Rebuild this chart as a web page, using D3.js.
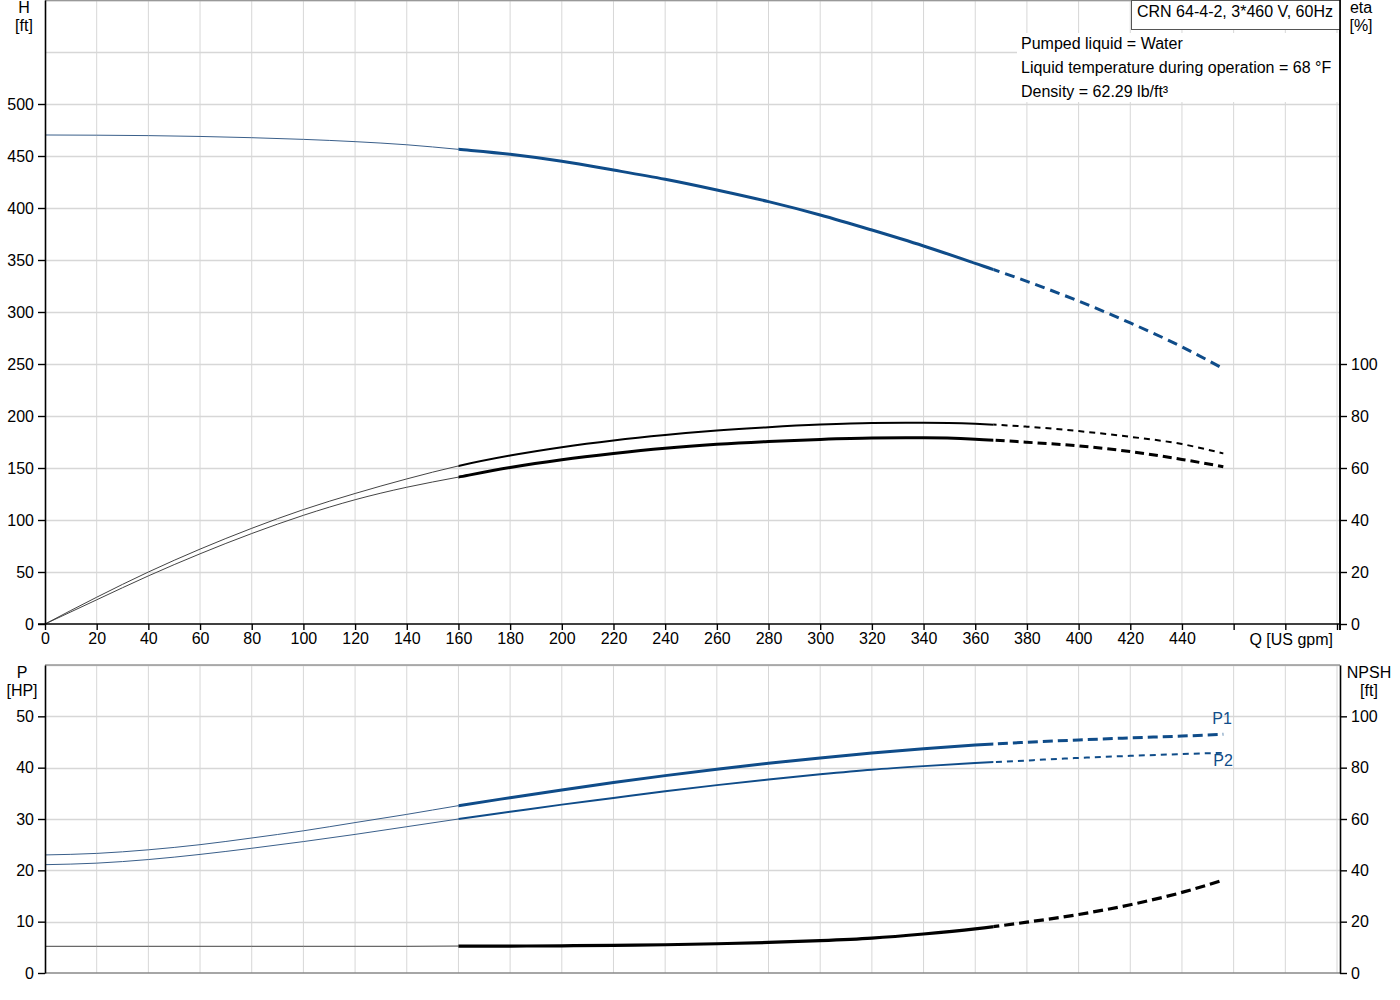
<!DOCTYPE html>
<html><head><meta charset="utf-8">
<script src="https://cdn.jsdelivr.net/npm/d3@7"></script>
<style>
body{margin:0;background:#fff}
text{font-family:Arial,"Liberation Sans",sans-serif;}
</style>
</head><body><svg id="c" width="1400" height="1000"></svg>
<script>
// ---------- data ----------
const Q = [0,20,40,60,80,100,120,140,160,180,200,220,240,260,280,300,320,340,360,380,400,420,440,456];
const H = [470.2,470,469.6,468.8,467.6,466,463.8,460.8,456.4,451.6,444.9,436.5,427.6,417.3,406.1,393.3,378.8,363.5,346.8,329.5,310.5,289.5,266.5,245.5];
const etaUpper = [0,10.3,20,28.8,36.8,44,50.2,55.8,60.8,64.8,68,70.6,72.7,74.4,75.7,76.7,77.3,77.4,77,75.9,74.2,72,69.2,65.6];
const etaLower = [0,9.3,18.5,27,34.8,41.8,47.8,52.6,56.5,60.2,63.2,65.6,67.6,69.1,70.2,71,71.5,71.6,71.1,69.9,68.5,66.3,63.3,60.5];
const P1 = [23.0,23.3,24.0,25.0,26.3,27.7,29.3,30.9,32.6,34.15,35.65,37.1,38.45,39.7,40.85,41.9,42.85,43.7,44.4,44.95,45.4,45.8,46.15,46.5];
const P2 = [21.1,21.4,22.1,23.1,24.3,25.6,27.0,28.5,30.0,31.4,32.8,34.1,35.4,36.6,37.7,38.7,39.6,40.3,40.9,41.4,41.9,42.3,42.65,42.9];
const NPSH = [10.4,10.4,10.4,10.4,10.4,10.4,10.4,10.4,10.5,10.5,10.6,10.8,11.0,11.4,11.9,12.6,13.6,15.2,17.2,19.8,22.8,26.6,31.4,36.2];
const segBreaks = [160, 367];           // thin | solid | dashed
const qTicks = d3.range(0, 501, 20);
const qLabels = d3.range(0, 441, 20);
const hTicks = [0,50,100,150,200,250,300,350,400,450,500];
const hGrid = d3.range(50, 601, 50);
const etaTicks = [0,20,40,60,80,100];
const pTicks = [0,10,20,30,40,50];
const pGrid = d3.range(10, 61, 10);
const npshTicks = [0,20,40,60,80,100];
const infoTitle = "CRN 64-4-2, 3*460 V, 60Hz";
const infoLines = ["Pumped liquid = Water", "Liquid temperature during operation = 68 °F", "Density = 62.29 lb/ft³"];

// ---------- scales ----------
const svg = d3.select('#c');
svg.append('rect').attr('width',1400).attr('height',1000).attr('fill','#fff');
const x = d3.scaleLinear().domain([0,500]).range([45,1337]);
const yH = d3.scaleLinear().domain([0,600]).range([624,0]);
const yEta = d3.scaleLinear().domain([0,240]).range([624,0]);
const yP = d3.scaleLinear().domain([0,60]).range([973,665]);
const yN = d3.scaleLinear().domain([0,120]).range([973,665]);
const BLUE = '#0f4c89';
const GRID = '#d7d7d7';
const FS = '16px';

// ---------- grids ----------
const grid = svg.append('g');
qTicks.filter(d=>d>0).forEach(q=>{
  grid.append('line').attr('x1',x(q)).attr('x2',x(q)).attr('y1',0).attr('y2',624).attr('stroke',GRID);
  grid.append('line').attr('x1',x(q)).attr('x2',x(q)).attr('y1',665).attr('y2',973).attr('stroke',GRID);
});
hGrid.forEach(h=>grid.append('line').attr('x1',45).attr('x2',1340).attr('y1',Math.round(yH(h))+0.5).attr('y2',Math.round(yH(h))+0.5).attr('stroke',GRID).attr('stroke-width',1.3));
pGrid.forEach(p=>grid.append('line').attr('x1',45).attr('x2',1340).attr('y1',Math.round(yP(p))+0.5).attr('y2',Math.round(yP(p))+0.5).attr('stroke',GRID).attr('stroke-width',1.3));

// border lines (gray)
svg.append('line').attr('x1',45).attr('x2',1340).attr('y1',0.5).attr('y2',0.5).attr('stroke','#999').attr('stroke-width',1.5);
svg.append('line').attr('x1',45).attr('x2',1340).attr('y1',665).attr('y2',665).attr('stroke','#999').attr('stroke-width',1.5);
svg.append('line').attr('x1',45).attr('x2',1340).attr('y1',973).attr('y2',973).attr('stroke','#888').attr('stroke-width',1.5);

// info background
svg.append('rect').attr('x',1017).attr('y',33).attr('width',322).attr('height',69).attr('fill','#fff');

// ---------- clip paths for the segment styles ----------
const defs = svg.append('defs');
const clipRanges = [[0, segBreaks[0]], [segBreaks[0], segBreaks[1]], [segBreaks[1], 500]];
clipRanges.forEach((r,i)=>{
  defs.append('clipPath').attr('id','seg'+i).append('rect')
    .attr('x', x(r[0])).attr('y',0).attr('width', x(r[1])-x(r[0])).attr('height',1000);
});

function drawSeries(yScale, vals, color, thinColor, wide, dash){
  const line = d3.line().x((d,i)=>x(Q[i])).y(d=>yScale(d)).curve(d3.curveMonotoneX);
  const g = svg.append('g').attr('fill','none');
  g.append('path').attr('d', line(vals)).attr('stroke', thinColor).attr('stroke-width',1).attr('clip-path','url(#seg0)');
  g.append('path').attr('d', line(vals)).attr('stroke', color).attr('stroke-width',wide).attr('clip-path','url(#seg1)');
  g.append('path').attr('d', line(vals)).attr('stroke', color).attr('stroke-width',wide).attr('stroke-dasharray',dash).attr('clip-path','url(#seg2)');
}
drawSeries(yH, H, BLUE, '#3a5f8a', 3, '10,6');
drawSeries(yEta, etaUpper, '#000', '#444', 2, '6,5');
drawSeries(yEta, etaLower, '#000', '#444', 3, '9,5');
drawSeries(yP, P1, BLUE, '#3a5f8a', 3, '10,5');
drawSeries(yP, P2, BLUE, '#3a5f8a', 2, '6,5');
drawSeries(yN, NPSH, '#000', '#444', 3.2, '10,5');

// ---------- axes ----------
function styleAxis(g){
  g.selectAll('path.domain').attr('stroke','#000').attr('stroke-width',1.6);
  g.selectAll('.tick line').attr('stroke','#000').attr('stroke-width',1.4);
  g.selectAll('.tick text').attr('fill','#000').style('font-size',FS).style('font-family','Arial,"Liberation Sans",sans-serif');
}
// top plot
svg.append('g').attr('transform','translate(45,0)')
  .call(d3.axisLeft(yH).tickValues(hTicks).tickSize(7).tickSizeOuter(0).tickPadding(4)).call(styleAxis);
svg.append('g').attr('transform','translate(1340,0)')
  .call(d3.axisRight(yEta).tickValues(etaTicks).tickSize(7).tickSizeOuter(0).tickPadding(4)).call(styleAxis)
  .select('path.domain').attr('d','M0,0V630');
const xa = svg.append('g').attr('transform','translate(0,624)')
  .call(d3.axisBottom(x).tickValues(qTicks).tickFormat(d=>qLabels.includes(d)?d:'').tickSize(6).tickSizeOuter(0).tickPadding(3)).call(styleAxis);
xa.select('path.domain').attr('d','M38,0H1340');
// bottom plot
svg.append('g').attr('transform','translate(45,0)')
  .call(d3.axisLeft(yP).tickValues(pTicks).tickSize(7).tickSizeOuter(0).tickPadding(4)).call(styleAxis);
svg.append('g').attr('transform','translate(1340,0)')
  .call(d3.axisRight(yN).tickValues(npshTicks).tickSize(7).tickSizeOuter(0).tickPadding(4)).call(styleAxis);

// ---------- texts ----------
function txt(t, xx, yy, anchor, color, size){
  svg.append('text').attr('x',xx).attr('y',yy).attr('text-anchor',anchor||'start')
    .attr('fill',color||'#000').style('font-size',size||FS).text(t);
}
txt('H', 24, 13, 'middle');
txt('[ft]', 24, 31, 'middle');
txt('eta', 1361, 13, 'middle');
txt('[%]', 1361, 31, 'middle');
txt('P', 22, 678, 'middle');
txt('[HP]', 22, 696, 'middle');
txt('NPSH', 1369, 678, 'middle');
txt('[ft]', 1369, 696, 'middle');
txt('Q [US gpm]', 1333, 645, 'end');
txt('P1', 1222, 724, 'middle', BLUE);
txt('P2', 1223, 766, 'middle', BLUE);

// info box
svg.append('rect').attr('x',1131.5).attr('y',0.5).attr('width',209).attr('height',29).attr('fill','#fff').attr('stroke','#555').attr('stroke-width',1);
txt(infoTitle, 1137, 17, 'start', '#000', '16px');
infoLines.forEach((l,i)=>txt(l, 1021, 49 + i*24, 'start', '#000', '16px'));
// redraw right axis line over box
svg.append('line').attr('x1',1340).attr('x2',1340).attr('y1',0).attr('y2',630).attr('stroke','#000').attr('stroke-width',1.6);
</script>
</body></html>
